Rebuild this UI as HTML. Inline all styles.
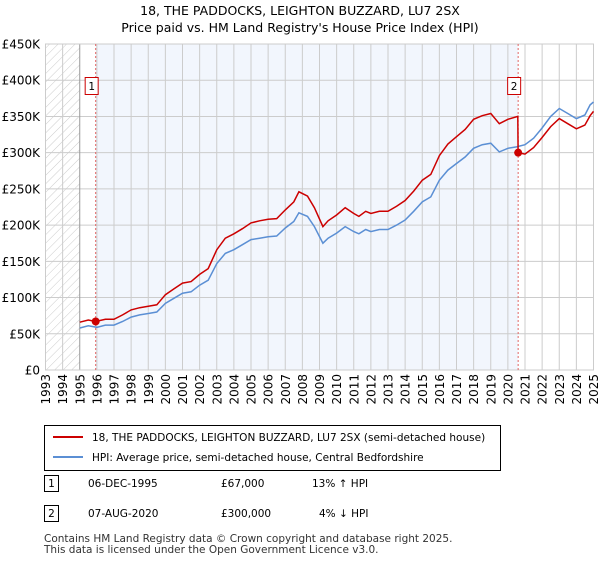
<!DOCTYPE html>
<html><head><meta charset="utf-8"><style>
body{margin:0;background:#fff;font-family:"Liberation Sans","DejaVu Sans",sans-serif;}
svg text{font-family:"DejaVu Sans","Liberation Sans",sans-serif;}
</style></head><body>
<svg id="c" width="600" height="560" xmlns="http://www.w3.org/2000/svg">
<defs><pattern id="hatch" width="6" height="6" patternUnits="userSpaceOnUse" patternTransform="rotate(45)"><line x1="0" y1="0" x2="0" y2="6" stroke="#ccc" stroke-width="1"/></pattern></defs>
<text x="300" y="15" text-anchor="middle" font-size="12.5">18, THE PADDOCKS, LEIGHTON BUZZARD, LU7 2SX</text>
<text x="300" y="32" text-anchor="middle" font-size="12.5">Price paid vs. HM Land Registry's House Price Index (HPI)</text>
<g id="plot"></g>
<g>
<rect x="44.5" y="425.5" width="456" height="45" fill="#fff" stroke="#000"/>
<line x1="53" y1="437" x2="83" y2="437" stroke="#cc0000" stroke-width="2"/>
<text x="92" y="441" font-size="10.5">18, THE PADDOCKS, LEIGHTON BUZZARD, LU7 2SX (semi-detached house)</text>
<line x1="53" y1="457" x2="83" y2="457" stroke="#5b8fd4" stroke-width="2"/>
<text x="92" y="461" font-size="10.5">HPI: Average price, semi-detached house, Central Bedfordshire</text>
</g>
<g font-size="10.5">
<rect x="44.5" y="475.5" width="14" height="16" fill="#fff" stroke="#000"/><text x="51.5" y="487" text-anchor="middle">1</text>
<text x="88" y="487">06-DEC-1995</text><text x="221" y="487">£67,000</text><text x="312" y="487">13% ↑ HPI</text>
<rect x="44.5" y="505.5" width="14" height="16" fill="#fff" stroke="#000"/><text x="51.5" y="517" text-anchor="middle">2</text>
<text x="88" y="517">07-AUG-2020</text><text x="221" y="517">£300,000</text><text x="319" y="517">4% ↓ HPI</text>
</g>
<text x="44" y="542" font-size="10.5" fill="#333">Contains HM Land Registry data © Crown copyright and database right 2025.</text>
<text x="44" y="553" font-size="10.5" fill="#333">This data is licensed under the Open Government Licence v3.0.</text>
</svg>
<script>
const yTicks=[0,50,100,150,200,250,300,350,400,450];
const yTickLabels=["£0","£50K","£100K","£150K","£200K","£250K","£300K","£350K","£400K","£450K"];
const xYears=[1993,1994,1995,1996,1997,1998,1999,2000,2001,2002,2003,2004,2005,2006,2007,2008,2009,2010,2011,2012,2013,2014,2015,2016,2017,2018,2019,2020,2021,2022,2023,2024,2025];
const hpiDates=[1995.0,1995.5,1996.0,1996.5,1997.0,1997.5,1998.0,1998.5,1999.0,1999.5,2000.0,2000.5,2001.0,2001.5,2002.0,2002.5,2003.0,2003.5,2004.0,2004.5,2005.0,2005.5,2006.0,2006.5,2007.0,2007.5,2007.8,2008.3,2008.7,2009.2,2009.5,2010.0,2010.5,2011.0,2011.3,2011.7,2012.0,2012.5,2013.0,2013.5,2014.0,2014.5,2015.0,2015.5,2016.0,2016.5,2017.0,2017.5,2018.0,2018.5,2019.0,2019.5,2020.0,2020.5,2021.0,2021.5,2022.0,2022.5,2023.0,2023.5,2024.0,2024.5,2024.8,2025.0];
const hpiValues=[58,61,59,62,62,67,73,76,78,80,92,99,106,108,117,124,147,161,166,173,180,182,184,185,196,205,217,212,198,175,182,189,198,191,188,194,191,194,194,200,207,219,232,239,262,276,285,294,306,311,313,301,306,308,311,320,334,350,361,354,347,352,366,370];
const priceDates=[1995.0,1995.5,1995.93,1996.5,1997.0,1997.5,1998.0,1998.5,1999.0,1999.5,2000.0,2000.5,2001.0,2001.5,2002.0,2002.5,2003.0,2003.5,2004.0,2004.5,2005.0,2005.5,2006.0,2006.5,2007.0,2007.5,2007.8,2008.3,2008.7,2009.2,2009.5,2010.0,2010.5,2011.0,2011.3,2011.7,2012.0,2012.5,2013.0,2013.5,2014.0,2014.5,2015.0,2015.5,2016.0,2016.5,2017.0,2017.5,2018.0,2018.5,2019.0,2019.5,2020.0,2020.58,2020.6,2021.0,2021.5,2022.0,2022.5,2023.0,2023.5,2024.0,2024.5,2024.8,2025.0];
const priceValues=[66,69,67,70,70,76,83,86,88,90,104,112,120,122,132,140,166,182,188,195,203,206,208,209,221,232,246,240,224,198,206,214,224,216,212,219,216,219,219,226,234,247,262,270,296,312,322,332,346,351,354,340,346,350,300,298,307,321,336,347,340,333,338,351,357];
const saleDates=[1995.93,2020.6];
const saleValues=[67,300];
const saleLabels=["1","2"];

const X0=45.5,X1=593.5,Y0=370,Y1=44;
const xs=y=>X0+(y-1993)/(2025-1993)*(X1-X0);
const ys=v=>Y0-v/450*(Y0-Y1);
const NS="http://www.w3.org/2000/svg";
const g=document.getElementById('plot');
function mk(t,a,p){const e=document.createElementNS(NS,t);for(const k in a)e.setAttribute(k,a[k]);(p||g).appendChild(e);return e;}
let e;
e=mk('rect',{x:X0,y:Y1,width:xs(1995)-X0,height:Y0-Y1,fill:'url(#hatch)'});


e=mk('rect',{x:xs(saleDates[0]),y:Y1,width:xs(saleDates[1])-xs(saleDates[0]),height:Y0-Y1,fill:'#f2f6fd'});


yTicks.forEach((v,i)=>{
 e=mk('line',{x1:X0,x2:X1,y1:ys(v),y2:ys(v),stroke:'#ccc','stroke-width':1});
 
 
 e=mk('text',{x:40,y:ys(v)+4.5,'text-anchor':'end','font-size':12});
 e.textContent=yTickLabels[i];
 
 
});
xYears.forEach(yr=>{
 e=mk('line',{x1:xs(yr),x2:xs(yr),y1:Y1,y2:Y0,stroke:yr==1995?'#999':'#ccc','stroke-width':1});
 
 
 e=mk('text',{x:0,y:0,'font-size':12,'text-anchor':'end',transform:`translate(${xs(yr)+4.5},374) rotate(-90)`});
 e.textContent=yr;
 
 
});
e=mk('rect',{x:X0,y:Y1,width:X1-X0,height:Y0-Y1,fill:'none',stroke:'#ccc'});


saleDates.forEach((d,i)=>{
 e=mk('line',{x1:xs(d),x2:xs(d),y1:Y1,y2:Y0,stroke:'#e06666','stroke-dasharray':'2,2','stroke-width':1});
 
 
});
e=mk('path',{d:hpiDates.map((d,i)=>(i?'L':'M')+xs(d).toFixed(1)+','+ys(hpiValues[i]).toFixed(1)).join(''),fill:'none',stroke:'#5b8fd4','stroke-width':1.5});


e=mk('path',{d:priceDates.map((d,i)=>(i?'L':'M')+xs(d).toFixed(1)+','+ys(priceValues[i]).toFixed(1)).join(''),fill:'none',stroke:'#cc0000','stroke-width':1.5});


saleDates.forEach((d,i)=>{
 e=mk('circle',{cx:xs(d),cy:ys(saleValues[i]),r:4,fill:'#cc0000'});
 
 
 e=mk('rect',{x:xs(d)-10.5,y:77.5,width:13,height:17,fill:'#fff',stroke:'#cc0000'});
 
 
 e=mk('text',{x:xs(d)-4,y:90,'text-anchor':'middle','font-size':10.5});
 e.textContent=saleLabels[i];
 
 
});
</script>
</body></html>
